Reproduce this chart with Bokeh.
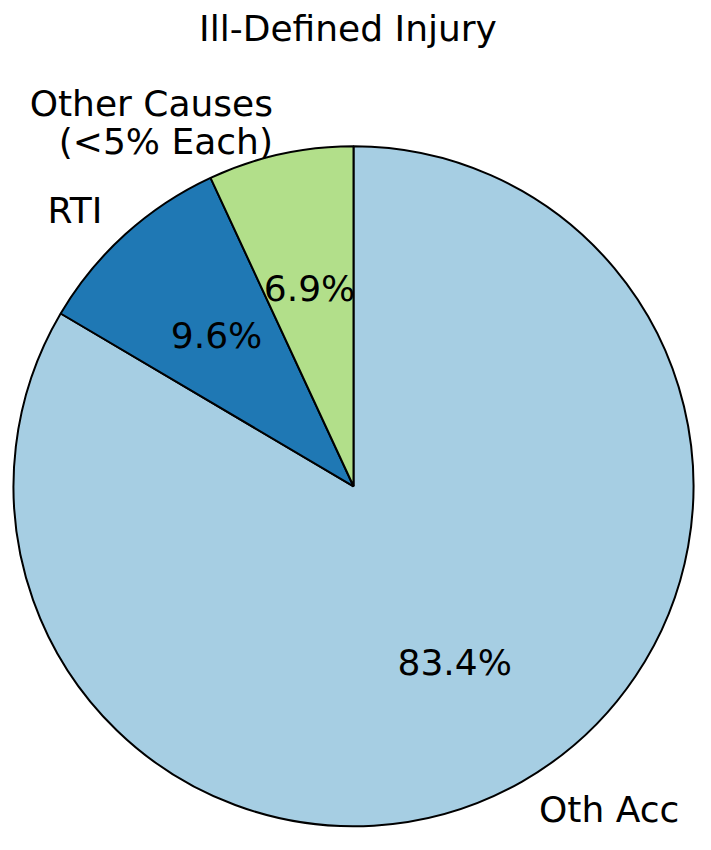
import numpy as np
from bokeh.plotting import figure
from bokeh.models import Range1d, ColumnDataSource
from bokeh.core.properties import value
from bokeh.embed import file_html
from bokeh.resources import INLINE

# ---- data ----
categories = ["Oth Acc", "RTI", "Other Causes\n(<5% Each)"]
shares = [83.4, 9.6, 6.9]
colors = ["#a6cee3", "#1f78b4", "#b2df8a"]
chart_title = "Ill-Defined Injury"

# ---- layout ----
W, H = 695, 834
T = 49            # assumed title panel height
SCALE = 340.0     # pixels per data unit (pie radius = 1)
CX, CY = 353, 484 # pie centre in figure pixels from top-left
FONT = "DejaVu Sans"
FS = "36px"

vals = np.array(shares, dtype=float)
frac = vals / vals.sum()
cum = np.concatenate([[0], np.cumsum(frac)[:-1]])
start = np.deg2rad(90 - cum * 360)
end = np.deg2rad(90 - (cum + frac) * 360)
mid = (start + end) / 2

src = ColumnDataSource(dict(start=start, end=end, color=colors))

p = figure(width=W, height=H, output_backend="svg", toolbar_location=None,
           title=chart_title, min_border=0,
           x_range=Range1d(-CX / SCALE, (W - CX) / SCALE),
           y_range=Range1d(-(H - CY) / SCALE, (CY - T) / SCALE))
p.axis.visible = False
p.grid.visible = False
p.outline_line_color = None
p.title.align = "center"
p.title.text_font = FONT
p.title.text_font_size = FS
p.title.text_font_style = "normal"
p.title.text_color = "black"

p.wedge(x=0, y=0, radius=1, start_angle="start", end_angle="end",
        direction="clock", fill_color="color", line_color="black",
        line_width=2, source=src)

lx = 1.1 * np.cos(mid)
ly = 1.1 * np.sin(mid)
lab = ColumnDataSource(dict(x=lx, y=ly, text=categories,
                            align=["left" if x > 0 else "right" for x in lx]))
p.text(x="x", y="y", text="text", text_align="align", text_baseline="middle",
       text_font=value(FONT), text_font_size=FS, text_color="black",
       text_line_height=0.93, source=lab)

px = 0.6 * np.cos(mid)
py = 0.6 * np.sin(mid)
pct = ColumnDataSource(dict(x=px, y=py, text=[f"{v:.1f}%" for v in vals]))
p.text(x="x", y="y", text="text", text_align="center", text_baseline="middle",
       text_font=value(FONT), text_font_size=FS, text_color="black", source=pct)

open("out.html", "w").write(file_html(p, INLINE))
